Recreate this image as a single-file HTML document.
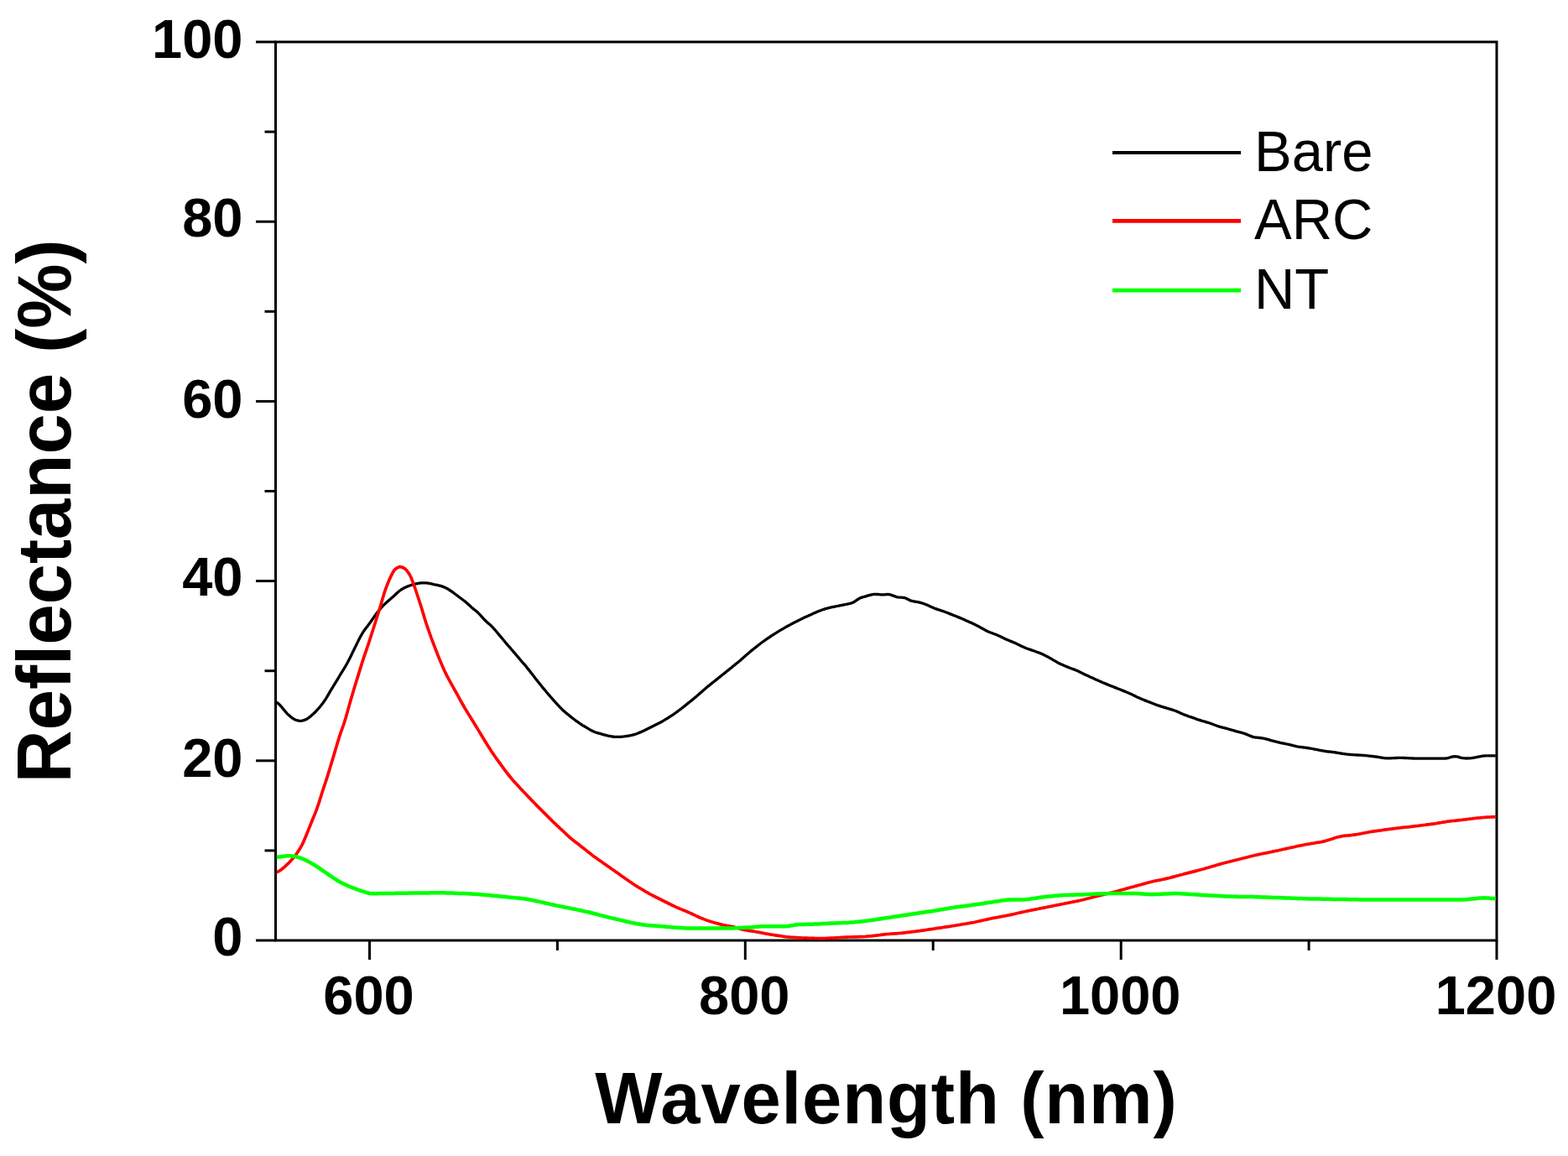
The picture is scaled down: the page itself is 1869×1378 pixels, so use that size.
<!DOCTYPE html>
<html><head><meta charset="utf-8"><title>Reflectance vs Wavelength</title>
<style>
html,body{margin:0;padding:0;background:#fff;}
svg{display:block;}
.wrap{width:1869px;height:1378px;}
.tk{font-family:"Liberation Sans",Arial,sans-serif;font-weight:bold;font-size:65px;fill:#000;}
.ttl{font-family:"Liberation Sans",Arial,sans-serif;font-weight:bold;font-size:85px;fill:#000;}
.ttl2{font-family:"Liberation Sans",Arial,sans-serif;font-weight:bold;font-size:87px;fill:#000;}
.lg{font-family:"Liberation Sans",Arial,sans-serif;font-weight:normal;font-size:67px;fill:#000;}
</style></head>
<body>
<div class="wrap"><svg width="1869" height="1378" viewBox="0 0 1869 1378">
<rect width="1869" height="1378" fill="#fff"/>
<g><rect x="328.5" y="50.0" width="1455.5" height="1071.0" fill="none" stroke="#000" stroke-width="3"/><line x1="305.0" y1="1121.0" x2="328.5" y2="1121.0" stroke="#000" stroke-width="3"/><line x1="315.5" y1="1013.9" x2="328.5" y2="1013.9" stroke="#000" stroke-width="3"/><line x1="305.0" y1="906.8" x2="328.5" y2="906.8" stroke="#000" stroke-width="3"/><line x1="315.5" y1="799.7" x2="328.5" y2="799.7" stroke="#000" stroke-width="3"/><line x1="305.0" y1="692.6" x2="328.5" y2="692.6" stroke="#000" stroke-width="3"/><line x1="315.5" y1="585.5" x2="328.5" y2="585.5" stroke="#000" stroke-width="3"/><line x1="305.0" y1="478.4" x2="328.5" y2="478.4" stroke="#000" stroke-width="3"/><line x1="315.5" y1="371.3" x2="328.5" y2="371.3" stroke="#000" stroke-width="3"/><line x1="305.0" y1="264.2" x2="328.5" y2="264.2" stroke="#000" stroke-width="3"/><line x1="315.5" y1="157.1" x2="328.5" y2="157.1" stroke="#000" stroke-width="3"/><line x1="305.0" y1="50.0" x2="328.5" y2="50.0" stroke="#000" stroke-width="3"/><line x1="440.5" y1="1121.0" x2="440.5" y2="1144.0" stroke="#000" stroke-width="3"/><line x1="664.4" y1="1121.0" x2="664.4" y2="1133.0" stroke="#000" stroke-width="3"/><line x1="888.3" y1="1121.0" x2="888.3" y2="1144.0" stroke="#000" stroke-width="3"/><line x1="1112.2" y1="1121.0" x2="1112.2" y2="1133.0" stroke="#000" stroke-width="3"/><line x1="1336.2" y1="1121.0" x2="1336.2" y2="1144.0" stroke="#000" stroke-width="3"/><line x1="1560.1" y1="1121.0" x2="1560.1" y2="1133.0" stroke="#000" stroke-width="3"/><line x1="1784.0" y1="1121.0" x2="1784.0" y2="1144.0" stroke="#000" stroke-width="3"/></g>
<g><path d="M329.7,837.5 L330.0,837.5 L332.0,838.8 L334.0,840.9 L336.0,843.2 L338.0,845.6 L340.0,848.0 L342.0,850.3 L344.0,852.3 L346.0,854.1 L348.0,855.6 L350.0,857.0 L352.0,858.0 L354.0,858.7 L356.0,859.2 L358.0,859.3 L360.0,859.1 L362.0,858.6 L364.0,857.9 L366.0,856.9 L368.0,855.6 L370.0,854.0 L372.0,852.3 L374.0,850.5 L376.0,848.5 L378.0,846.4 L380.0,844.2 L382.0,841.8 L384.0,839.3 L386.0,836.5 L388.0,833.6 L390.0,830.3 L392.0,826.9 L394.0,823.4 L396.0,820.1 L398.0,816.9 L400.0,813.6 L402.0,810.3 L404.0,807.0 L406.0,803.7 L408.0,800.4 L410.0,797.2 L412.0,793.8 L414.0,790.2 L416.0,786.4 L418.0,782.5 L420.0,778.4 L422.0,774.3 L424.0,770.2 L426.0,766.1 L428.0,762.1 L430.0,758.3 L432.0,754.8 L434.0,751.7 L436.0,749.0 L438.0,746.4 L440.0,743.7 L442.0,741.0 L444.0,738.1 L446.0,735.3 L448.0,732.5 L450.0,729.8 L452.0,727.3 L454.0,724.9 L456.0,722.7 L458.0,720.6 L460.0,718.7 L462.0,717.0 L464.0,715.3 L466.0,713.6 L468.0,711.8 L470.0,710.0 L472.0,708.0 L474.0,706.2 L476.0,704.5 L478.0,703.0 L480.0,701.8 L482.0,700.7 L484.0,699.8 L486.0,698.9 L488.0,698.2 L490.0,697.5 L492.0,696.9 L494.0,696.4 L496.0,695.9 L498.0,695.5 L500.0,695.2 L502.0,694.9 L504.0,694.8 L506.0,694.8 L508.0,694.9 L510.0,695.2 L512.0,695.5 L514.0,695.9 L516.0,696.3 L518.0,696.8 L520.0,697.2 L522.0,697.7 L524.0,698.1 L526.0,698.7 L528.0,699.3 L530.0,700.2 L532.0,701.1 L534.0,702.2 L536.0,703.5 L538.0,704.8 L540.0,706.2 L542.0,707.7 L544.0,709.2 L546.0,710.8 L548.0,712.3 L550.0,713.8 L552.0,715.3 L554.0,716.8 L556.0,718.4 L558.0,720.2 L560.0,722.0 L562.0,723.9 L564.0,725.6 L566.0,727.2 L568.0,728.8 L570.0,730.6 L572.0,732.6 L574.0,734.8 L576.0,737.1 L578.0,739.3 L580.0,741.2 L582.0,742.9 L584.0,744.6 L586.0,746.5 L588.0,748.6 L590.0,750.8 L592.0,753.2 L594.0,755.6 L596.0,758.0 L598.0,760.4 L600.0,762.8 L602.0,765.2 L604.0,767.6 L606.0,769.9 L608.0,772.2 L610.0,774.5 L612.0,776.8 L614.0,779.1 L616.0,781.5 L618.0,783.9 L620.0,786.3 L622.0,788.6 L624.0,790.9 L626.0,793.2 L628.0,795.6 L630.0,798.1 L632.0,800.6 L634.0,803.2 L636.0,805.8 L638.0,808.4 L640.0,811.0 L642.0,813.5 L644.0,816.0 L646.0,818.5 L648.0,820.9 L650.0,823.3 L652.0,825.7 L654.0,828.0 L656.0,830.4 L658.0,832.6 L660.0,834.9 L662.0,837.1 L664.0,839.3 L666.0,841.5 L668.0,843.6 L670.0,845.7 L672.0,847.5 L674.0,849.3 L676.0,850.9 L678.0,852.5 L680.0,854.1 L682.0,855.7 L684.0,857.3 L686.0,858.8 L688.0,860.2 L690.0,861.6 L692.0,863.0 L694.0,864.3 L696.0,865.5 L698.0,866.7 L700.0,867.9 L702.0,869.1 L704.0,870.3 L706.0,871.3 L708.0,872.2 L710.0,873.0 L712.0,873.6 L714.0,874.2 L716.0,874.7 L718.0,875.3 L720.0,875.9 L722.0,876.4 L724.0,876.9 L726.0,877.3 L728.0,877.7 L730.0,878.0 L732.0,878.3 L734.0,878.4 L736.0,878.4 L738.0,878.4 L740.0,878.3 L742.0,878.1 L744.0,877.9 L746.0,877.6 L748.0,877.3 L750.0,877.0 L752.0,876.6 L754.0,876.2 L756.0,875.6 L758.0,875.0 L760.0,874.2 L762.0,873.4 L764.0,872.6 L766.0,871.7 L768.0,870.8 L770.0,869.8 L772.0,868.8 L774.0,867.8 L776.0,866.8 L778.0,865.8 L780.0,864.8 L782.0,863.8 L784.0,862.8 L786.0,861.8 L788.0,860.7 L790.0,859.6 L792.0,858.4 L794.0,857.2 L796.0,856.0 L798.0,854.7 L800.0,853.4 L802.0,852.1 L804.0,850.7 L806.0,849.2 L808.0,847.8 L810.0,846.3 L812.0,844.7 L814.0,843.2 L816.0,841.6 L818.0,840.0 L820.0,838.4 L822.0,836.8 L824.0,835.2 L826.0,833.6 L828.0,831.9 L830.0,830.3 L832.0,828.6 L834.0,826.8 L836.0,825.0 L838.0,823.2 L840.0,821.5 L842.0,819.8 L844.0,818.1 L846.0,816.5 L848.0,814.9 L850.0,813.3 L852.0,811.7 L854.0,810.1 L856.0,808.5 L858.0,806.9 L860.0,805.3 L862.0,803.7 L864.0,802.1 L866.0,800.5 L868.0,798.9 L870.0,797.3 L872.0,795.7 L874.0,794.0 L876.0,792.4 L878.0,790.8 L880.0,789.2 L882.0,787.5 L884.0,785.7 L886.0,784.0 L888.0,782.2 L890.0,780.4 L892.0,778.7 L894.0,777.0 L896.0,775.4 L898.0,773.8 L900.0,772.2 L902.0,770.6 L904.0,769.0 L906.0,767.5 L908.0,766.0 L910.0,764.5 L912.0,763.1 L914.0,761.7 L916.0,760.3 L918.0,759.0 L920.0,757.7 L922.0,756.4 L924.0,755.1 L926.0,753.9 L928.0,752.6 L930.0,751.4 L932.0,750.2 L934.0,749.1 L936.0,747.9 L938.0,746.8 L940.0,745.7 L942.0,744.6 L944.0,743.5 L946.0,742.5 L948.0,741.4 L950.0,740.4 L952.0,739.4 L954.0,738.5 L956.0,737.5 L958.0,736.6 L960.0,735.6 L962.0,734.7 L964.0,733.8 L966.0,732.9 L968.0,732.0 L970.0,731.1 L972.0,730.2 L974.0,729.3 L976.0,728.5 L978.0,727.7 L980.0,727.0 L982.0,726.3 L984.0,725.7 L986.0,725.2 L988.0,724.6 L990.0,724.1 L992.0,723.7 L994.0,723.3 L996.0,722.9 L998.0,722.5 L1000.0,722.1 L1002.0,721.7 L1004.0,721.3 L1006.0,720.9 L1008.0,720.5 L1010.0,720.1 L1012.0,719.7 L1014.0,719.2 L1016.0,718.6 L1018.0,717.6 L1020.0,716.2 L1022.0,714.8 L1024.0,713.5 L1026.0,712.6 L1028.0,711.9 L1030.0,711.4 L1032.0,710.8 L1034.0,710.2 L1036.0,709.6 L1038.0,709.1 L1040.0,708.6 L1042.0,708.3 L1044.0,708.3 L1046.0,708.5 L1048.0,708.7 L1050.0,708.9 L1052.0,708.9 L1054.0,708.8 L1056.0,708.6 L1058.0,708.5 L1060.0,708.7 L1062.0,709.2 L1064.0,709.9 L1066.0,710.6 L1068.0,711.3 L1070.0,711.8 L1072.0,712.1 L1074.0,712.2 L1076.0,712.3 L1078.0,712.5 L1080.0,713.3 L1082.0,714.3 L1084.0,715.4 L1086.0,716.2 L1088.0,716.7 L1090.0,717.0 L1092.0,717.3 L1094.0,717.6 L1096.0,718.1 L1098.0,718.6 L1100.0,719.3 L1102.0,720.0 L1104.0,720.7 L1106.0,721.6 L1108.0,722.5 L1110.0,723.4 L1112.0,724.3 L1114.0,725.2 L1116.0,725.9 L1118.0,726.6 L1120.0,727.2 L1122.0,727.9 L1124.0,728.5 L1126.0,729.2 L1128.0,730.0 L1130.0,730.8 L1132.0,731.6 L1134.0,732.4 L1136.0,733.2 L1138.0,734.0 L1140.0,734.8 L1142.0,735.6 L1144.0,736.4 L1146.0,737.2 L1148.0,738.1 L1150.0,739.0 L1152.0,739.9 L1154.0,740.8 L1156.0,741.7 L1158.0,742.6 L1160.0,743.6 L1162.0,744.6 L1164.0,745.6 L1166.0,746.6 L1168.0,747.6 L1170.0,748.7 L1172.0,749.8 L1174.0,750.9 L1176.0,751.9 L1178.0,752.9 L1180.0,753.8 L1182.0,754.5 L1184.0,755.3 L1186.0,756.0 L1188.0,756.8 L1190.0,757.7 L1192.0,758.6 L1194.0,759.5 L1196.0,760.5 L1198.0,761.5 L1200.0,762.4 L1202.0,763.2 L1204.0,764.1 L1206.0,764.9 L1208.0,765.7 L1210.0,766.6 L1212.0,767.5 L1214.0,768.4 L1216.0,769.4 L1218.0,770.4 L1220.0,771.3 L1222.0,772.2 L1224.0,773.0 L1226.0,773.7 L1228.0,774.4 L1230.0,775.1 L1232.0,775.8 L1234.0,776.5 L1236.0,777.2 L1238.0,777.9 L1240.0,778.7 L1242.0,779.6 L1244.0,780.5 L1246.0,781.5 L1248.0,782.6 L1250.0,783.6 L1252.0,784.7 L1254.0,785.9 L1256.0,787.1 L1258.0,788.2 L1260.0,789.4 L1262.0,790.4 L1264.0,791.4 L1266.0,792.3 L1268.0,793.2 L1270.0,794.1 L1272.0,794.9 L1274.0,795.7 L1276.0,796.5 L1278.0,797.2 L1280.0,797.9 L1282.0,798.7 L1284.0,799.6 L1286.0,800.5 L1288.0,801.5 L1290.0,802.5 L1292.0,803.4 L1294.0,804.4 L1296.0,805.3 L1298.0,806.3 L1300.0,807.2 L1302.0,808.1 L1304.0,809.0 L1306.0,809.9 L1308.0,810.8 L1310.0,811.7 L1312.0,812.6 L1314.0,813.5 L1316.0,814.3 L1318.0,815.1 L1320.0,815.9 L1322.0,816.8 L1324.0,817.6 L1326.0,818.3 L1328.0,819.1 L1330.0,819.9 L1332.0,820.7 L1334.0,821.5 L1336.0,822.3 L1338.0,823.1 L1340.0,823.9 L1342.0,824.7 L1344.0,825.5 L1346.0,826.4 L1348.0,827.3 L1350.0,828.2 L1352.0,829.2 L1354.0,830.2 L1356.0,831.2 L1358.0,832.1 L1360.0,833.0 L1362.0,833.8 L1364.0,834.6 L1366.0,835.4 L1368.0,836.2 L1370.0,836.9 L1372.0,837.7 L1374.0,838.5 L1376.0,839.3 L1378.0,840.1 L1380.0,840.8 L1382.0,841.4 L1384.0,842.1 L1386.0,842.7 L1388.0,843.3 L1390.0,843.9 L1392.0,844.5 L1394.0,845.1 L1396.0,845.7 L1398.0,846.3 L1400.0,847.0 L1402.0,847.8 L1404.0,848.6 L1406.0,849.5 L1408.0,850.4 L1410.0,851.3 L1412.0,852.1 L1414.0,852.8 L1416.0,853.6 L1418.0,854.3 L1420.0,854.9 L1422.0,855.6 L1424.0,856.3 L1426.0,857.1 L1428.0,857.8 L1430.0,858.4 L1432.0,859.1 L1434.0,859.7 L1436.0,860.2 L1438.0,860.8 L1440.0,861.4 L1442.0,862.0 L1444.0,862.8 L1446.0,863.5 L1448.0,864.3 L1450.0,865.0 L1452.0,865.7 L1454.0,866.3 L1456.0,866.8 L1458.0,867.4 L1460.0,867.9 L1462.0,868.4 L1464.0,869.0 L1466.0,869.6 L1468.0,870.2 L1470.0,870.7 L1472.0,871.3 L1474.0,871.9 L1476.0,872.4 L1478.0,872.9 L1480.0,873.4 L1482.0,874.0 L1484.0,874.6 L1486.0,875.4 L1488.0,876.3 L1490.0,877.1 L1492.0,877.9 L1494.0,878.6 L1496.0,879.0 L1498.0,879.2 L1500.0,879.4 L1502.0,879.5 L1504.0,879.8 L1506.0,880.1 L1508.0,880.6 L1510.0,881.1 L1512.0,881.7 L1514.0,882.3 L1516.0,882.9 L1518.0,883.4 L1520.0,883.9 L1522.0,884.4 L1524.0,884.9 L1526.0,885.4 L1528.0,885.8 L1530.0,886.2 L1532.0,886.6 L1534.0,887.0 L1536.0,887.4 L1538.0,887.9 L1540.0,888.4 L1542.0,888.9 L1544.0,889.3 L1546.0,889.8 L1548.0,890.2 L1550.0,890.5 L1552.0,890.7 L1554.0,891.0 L1556.0,891.2 L1558.0,891.5 L1560.0,891.8 L1562.0,892.1 L1564.0,892.5 L1566.0,892.9 L1568.0,893.3 L1570.0,893.7 L1572.0,894.1 L1574.0,894.5 L1576.0,894.8 L1578.0,895.2 L1580.0,895.5 L1582.0,895.8 L1584.0,896.0 L1586.0,896.2 L1588.0,896.5 L1590.0,896.7 L1592.0,897.0 L1594.0,897.3 L1596.0,897.7 L1598.0,898.0 L1600.0,898.3 L1602.0,898.6 L1604.0,898.9 L1606.0,899.1 L1608.0,899.3 L1610.0,899.5 L1612.0,899.6 L1614.0,899.8 L1616.0,899.9 L1618.0,900.0 L1620.0,900.1 L1622.0,900.2 L1624.0,900.3 L1626.0,900.5 L1628.0,900.7 L1630.0,900.9 L1632.0,901.1 L1634.0,901.3 L1636.0,901.5 L1638.0,901.8 L1640.0,902.0 L1642.0,902.3 L1644.0,902.7 L1646.0,903.0 L1648.0,903.3 L1650.0,903.6 L1652.0,903.8 L1654.0,903.9 L1656.0,903.9 L1658.0,903.9 L1660.0,903.7 L1662.0,903.6 L1664.0,903.5 L1666.0,903.4 L1668.0,903.3 L1670.0,903.4 L1672.0,903.4 L1674.0,903.5 L1676.0,903.6 L1678.0,903.7 L1680.0,903.8 L1682.0,903.9 L1684.0,904.0 L1686.0,904.1 L1688.0,904.2 L1690.0,904.2 L1692.0,904.2 L1694.0,904.2 L1696.0,904.2 L1698.0,904.2 L1700.0,904.2 L1702.0,904.2 L1704.0,904.2 L1706.0,904.2 L1708.0,904.2 L1710.0,904.2 L1712.0,904.2 L1714.0,904.2 L1716.0,904.2 L1718.0,904.2 L1720.0,904.2 L1722.0,904.1 L1724.0,904.0 L1726.0,903.6 L1728.0,903.0 L1730.0,902.4 L1732.0,901.8 L1734.0,901.7 L1736.0,901.8 L1738.0,902.2 L1740.0,902.8 L1742.0,903.3 L1744.0,903.7 L1746.0,903.9 L1748.0,904.0 L1750.0,903.9 L1752.0,903.8 L1754.0,903.6 L1756.0,903.3 L1758.0,903.0 L1760.0,902.6 L1762.0,902.2 L1764.0,901.8 L1766.0,901.4 L1768.0,901.1 L1770.0,900.9 L1772.0,900.8 L1774.0,900.8 L1776.0,900.8 L1778.0,900.8 L1780.0,900.8 L1782.0,900.8 L1782.8,900.8" fill="none" stroke="#000000" stroke-width="3.3" stroke-linejoin="round"/><path d="M329.7,1039.6 L330.0,1039.6 L332.0,1038.8 L334.0,1037.5 L336.0,1036.0 L338.0,1034.3 L340.0,1032.6 L342.0,1030.7 L344.0,1028.8 L346.0,1026.8 L348.0,1024.6 L350.0,1022.3 L352.0,1019.8 L354.0,1017.0 L356.0,1013.9 L358.0,1010.7 L360.0,1007.1 L362.0,1002.9 L364.0,998.2 L366.0,993.3 L368.0,988.4 L370.0,983.3 L372.0,978.3 L374.0,973.5 L376.0,968.6 L378.0,963.2 L380.0,957.4 L382.0,951.0 L384.0,944.5 L386.0,938.4 L388.0,932.5 L390.0,926.4 L392.0,919.9 L394.0,913.2 L396.0,906.6 L398.0,900.0 L400.0,893.3 L402.0,886.5 L404.0,879.9 L406.0,873.6 L408.0,868.1 L410.0,862.5 L412.0,856.0 L414.0,848.9 L416.0,841.8 L418.0,834.8 L420.0,827.9 L422.0,821.1 L424.0,814.6 L426.0,808.1 L428.0,801.6 L430.0,795.1 L432.0,788.7 L434.0,782.7 L436.0,776.9 L438.0,771.0 L440.0,765.0 L442.0,758.7 L444.0,752.5 L446.0,746.2 L448.0,739.9 L450.0,733.6 L452.0,727.3 L454.0,720.7 L456.0,713.7 L458.0,707.0 L460.0,701.1 L462.0,696.0 L464.0,691.1 L466.0,686.9 L468.0,682.9 L470.0,679.5 L472.0,677.8 L474.0,676.6 L476.0,675.7 L478.0,675.8 L480.0,676.5 L482.0,677.5 L484.0,679.1 L486.0,681.6 L488.0,684.5 L490.0,688.5 L492.0,693.6 L494.0,699.0 L496.0,705.0 L498.0,711.0 L500.0,717.0 L502.0,723.3 L504.0,729.9 L506.0,736.6 L508.0,743.0 L510.0,748.9 L512.0,754.5 L514.0,760.3 L516.0,765.5 L518.0,770.8 L520.0,776.0 L522.0,781.1 L524.0,786.1 L526.0,790.9 L528.0,795.6 L530.0,800.0 L532.0,804.1 L534.0,808.0 L536.0,811.7 L538.0,815.3 L540.0,818.9 L542.0,822.5 L544.0,826.0 L546.0,829.7 L548.0,833.3 L550.0,837.0 L552.0,840.5 L554.0,844.0 L556.0,847.3 L558.0,850.6 L560.0,853.8 L562.0,857.0 L564.0,860.2 L566.0,863.5 L568.0,866.8 L570.0,870.1 L572.0,873.4 L574.0,876.7 L576.0,880.0 L578.0,883.3 L580.0,886.5 L582.0,889.7 L584.0,892.8 L586.0,895.9 L588.0,898.9 L590.0,901.8 L592.0,904.6 L594.0,907.4 L596.0,910.2 L598.0,912.9 L600.0,915.6 L602.0,918.3 L604.0,920.9 L606.0,923.5 L608.0,926.0 L610.0,928.4 L612.0,930.7 L614.0,932.9 L616.0,935.1 L618.0,937.3 L620.0,939.5 L622.0,941.6 L624.0,943.7 L626.0,945.8 L628.0,947.9 L630.0,950.0 L632.0,952.1 L634.0,954.2 L636.0,956.3 L638.0,958.3 L640.0,960.4 L642.0,962.4 L644.0,964.4 L646.0,966.4 L648.0,968.4 L650.0,970.4 L652.0,972.4 L654.0,974.4 L656.0,976.4 L658.0,978.4 L660.0,980.3 L662.0,982.2 L664.0,984.1 L666.0,985.9 L668.0,987.8 L670.0,989.6 L672.0,991.5 L674.0,993.4 L676.0,995.3 L678.0,997.2 L680.0,999.0 L682.0,1000.6 L684.0,1002.2 L686.0,1003.8 L688.0,1005.3 L690.0,1006.8 L692.0,1008.4 L694.0,1009.9 L696.0,1011.5 L698.0,1013.1 L700.0,1014.7 L702.0,1016.3 L704.0,1017.8 L706.0,1019.4 L708.0,1020.9 L710.0,1022.3 L712.0,1023.8 L714.0,1025.2 L716.0,1026.6 L718.0,1028.0 L720.0,1029.4 L722.0,1030.8 L724.0,1032.2 L726.0,1033.6 L728.0,1035.0 L730.0,1036.4 L732.0,1037.8 L734.0,1039.2 L736.0,1040.6 L738.0,1042.0 L740.0,1043.5 L742.0,1044.9 L744.0,1046.3 L746.0,1047.7 L748.0,1049.1 L750.0,1050.5 L752.0,1051.8 L754.0,1053.2 L756.0,1054.6 L758.0,1055.8 L760.0,1057.1 L762.0,1058.3 L764.0,1059.5 L766.0,1060.7 L768.0,1061.9 L770.0,1063.1 L772.0,1064.2 L774.0,1065.4 L776.0,1066.4 L778.0,1067.5 L780.0,1068.5 L782.0,1069.5 L784.0,1070.5 L786.0,1071.5 L788.0,1072.5 L790.0,1073.5 L792.0,1074.5 L794.0,1075.5 L796.0,1076.5 L798.0,1077.5 L800.0,1078.5 L802.0,1079.5 L804.0,1080.4 L806.0,1081.4 L808.0,1082.3 L810.0,1083.1 L812.0,1083.9 L814.0,1084.7 L816.0,1085.5 L818.0,1086.3 L820.0,1087.2 L822.0,1088.1 L824.0,1089.0 L826.0,1090.0 L828.0,1090.9 L830.0,1091.9 L832.0,1092.8 L834.0,1093.7 L836.0,1094.5 L838.0,1095.3 L840.0,1096.1 L842.0,1096.9 L844.0,1097.5 L846.0,1098.2 L848.0,1098.8 L850.0,1099.4 L852.0,1100.0 L854.0,1100.6 L856.0,1101.1 L858.0,1101.6 L860.0,1102.1 L862.0,1102.6 L864.0,1103.0 L866.0,1103.4 L868.0,1103.7 L870.0,1104.1 L872.0,1104.5 L874.0,1104.9 L876.0,1105.4 L878.0,1106.0 L880.0,1106.6 L882.0,1107.2 L884.0,1107.8 L886.0,1108.3 L888.0,1108.7 L890.0,1109.0 L892.0,1109.4 L894.0,1109.6 L896.0,1109.9 L898.0,1110.2 L900.0,1110.5 L902.0,1110.9 L904.0,1111.2 L906.0,1111.6 L908.0,1112.0 L910.0,1112.4 L912.0,1112.8 L914.0,1113.1 L916.0,1113.5 L918.0,1113.9 L920.0,1114.2 L922.0,1114.5 L924.0,1114.8 L926.0,1115.1 L928.0,1115.4 L930.0,1115.7 L932.0,1116.0 L934.0,1116.3 L936.0,1116.6 L938.0,1116.8 L940.0,1117.0 L942.0,1117.2 L944.0,1117.3 L946.0,1117.4 L948.0,1117.6 L950.0,1117.7 L952.0,1117.8 L954.0,1117.9 L956.0,1118.0 L958.0,1118.1 L960.0,1118.1 L962.0,1118.2 L964.0,1118.3 L966.0,1118.3 L968.0,1118.4 L970.0,1118.4 L972.0,1118.5 L974.0,1118.5 L976.0,1118.6 L978.0,1118.6 L980.0,1118.6 L982.0,1118.6 L984.0,1118.5 L986.0,1118.4 L988.0,1118.3 L990.0,1118.2 L992.0,1118.1 L994.0,1118.0 L996.0,1117.9 L998.0,1117.8 L1000.0,1117.7 L1002.0,1117.5 L1004.0,1117.4 L1006.0,1117.3 L1008.0,1117.2 L1010.0,1117.1 L1012.0,1117.0 L1014.0,1117.0 L1016.0,1116.9 L1018.0,1116.8 L1020.0,1116.8 L1022.0,1116.8 L1024.0,1116.7 L1026.0,1116.7 L1028.0,1116.6 L1030.0,1116.5 L1032.0,1116.4 L1034.0,1116.2 L1036.0,1116.0 L1038.0,1115.8 L1040.0,1115.6 L1042.0,1115.3 L1044.0,1115.1 L1046.0,1114.8 L1048.0,1114.6 L1050.0,1114.3 L1052.0,1114.1 L1054.0,1113.9 L1056.0,1113.7 L1058.0,1113.5 L1060.0,1113.4 L1062.0,1113.2 L1064.0,1113.1 L1066.0,1112.9 L1068.0,1112.8 L1070.0,1112.6 L1072.0,1112.5 L1074.0,1112.3 L1076.0,1112.1 L1078.0,1111.9 L1080.0,1111.7 L1082.0,1111.4 L1084.0,1111.2 L1086.0,1110.9 L1088.0,1110.7 L1090.0,1110.4 L1092.0,1110.2 L1094.0,1109.9 L1096.0,1109.7 L1098.0,1109.4 L1100.0,1109.1 L1102.0,1108.8 L1104.0,1108.5 L1106.0,1108.2 L1108.0,1107.9 L1110.0,1107.6 L1112.0,1107.3 L1114.0,1107.0 L1116.0,1106.7 L1118.0,1106.4 L1120.0,1106.1 L1122.0,1105.8 L1124.0,1105.5 L1126.0,1105.2 L1128.0,1104.9 L1130.0,1104.6 L1132.0,1104.3 L1134.0,1104.0 L1136.0,1103.7 L1138.0,1103.3 L1140.0,1103.0 L1142.0,1102.7 L1144.0,1102.4 L1146.0,1102.0 L1148.0,1101.7 L1150.0,1101.3 L1152.0,1101.0 L1154.0,1100.6 L1156.0,1100.3 L1158.0,1099.9 L1160.0,1099.6 L1162.0,1099.2 L1164.0,1098.7 L1166.0,1098.3 L1168.0,1097.9 L1170.0,1097.4 L1172.0,1097.0 L1174.0,1096.5 L1176.0,1096.1 L1178.0,1095.6 L1180.0,1095.2 L1182.0,1094.8 L1184.0,1094.4 L1186.0,1094.0 L1188.0,1093.6 L1190.0,1093.3 L1192.0,1092.9 L1194.0,1092.5 L1196.0,1092.2 L1198.0,1091.8 L1200.0,1091.4 L1202.0,1091.0 L1204.0,1090.6 L1206.0,1090.1 L1208.0,1089.7 L1210.0,1089.2 L1212.0,1088.8 L1214.0,1088.3 L1216.0,1087.9 L1218.0,1087.4 L1220.0,1087.0 L1222.0,1086.5 L1224.0,1086.1 L1226.0,1085.7 L1228.0,1085.3 L1230.0,1084.9 L1232.0,1084.5 L1234.0,1084.1 L1236.0,1083.7 L1238.0,1083.3 L1240.0,1082.9 L1242.0,1082.5 L1244.0,1082.1 L1246.0,1081.7 L1248.0,1081.3 L1250.0,1080.9 L1252.0,1080.5 L1254.0,1080.1 L1256.0,1079.7 L1258.0,1079.3 L1260.0,1078.9 L1262.0,1078.5 L1264.0,1078.1 L1266.0,1077.7 L1268.0,1077.3 L1270.0,1076.9 L1272.0,1076.5 L1274.0,1076.1 L1276.0,1075.7 L1278.0,1075.3 L1280.0,1074.9 L1282.0,1074.5 L1284.0,1074.1 L1286.0,1073.6 L1288.0,1073.2 L1290.0,1072.7 L1292.0,1072.3 L1294.0,1071.8 L1296.0,1071.3 L1298.0,1070.8 L1300.0,1070.3 L1302.0,1069.8 L1304.0,1069.3 L1306.0,1068.8 L1308.0,1068.3 L1310.0,1067.8 L1312.0,1067.3 L1314.0,1066.8 L1316.0,1066.3 L1318.0,1065.8 L1320.0,1065.3 L1322.0,1064.8 L1324.0,1064.3 L1326.0,1063.8 L1328.0,1063.2 L1330.0,1062.7 L1332.0,1062.2 L1334.0,1061.6 L1336.0,1061.1 L1338.0,1060.5 L1340.0,1060.0 L1342.0,1059.4 L1344.0,1058.9 L1346.0,1058.3 L1348.0,1057.8 L1350.0,1057.2 L1352.0,1056.7 L1354.0,1056.1 L1356.0,1055.6 L1358.0,1055.0 L1360.0,1054.5 L1362.0,1053.9 L1364.0,1053.4 L1366.0,1052.8 L1368.0,1052.3 L1370.0,1051.8 L1372.0,1051.3 L1374.0,1050.8 L1376.0,1050.3 L1378.0,1049.9 L1380.0,1049.5 L1382.0,1049.1 L1384.0,1048.7 L1386.0,1048.3 L1388.0,1047.9 L1390.0,1047.4 L1392.0,1046.9 L1394.0,1046.5 L1396.0,1045.9 L1398.0,1045.4 L1400.0,1044.9 L1402.0,1044.3 L1404.0,1043.8 L1406.0,1043.2 L1408.0,1042.7 L1410.0,1042.2 L1412.0,1041.6 L1414.0,1041.1 L1416.0,1040.6 L1418.0,1040.1 L1420.0,1039.6 L1422.0,1039.1 L1424.0,1038.6 L1426.0,1038.1 L1428.0,1037.6 L1430.0,1037.0 L1432.0,1036.5 L1434.0,1036.0 L1436.0,1035.4 L1438.0,1034.8 L1440.0,1034.3 L1442.0,1033.7 L1444.0,1033.1 L1446.0,1032.5 L1448.0,1031.9 L1450.0,1031.3 L1452.0,1030.7 L1454.0,1030.1 L1456.0,1029.6 L1458.0,1029.0 L1460.0,1028.5 L1462.0,1028.0 L1464.0,1027.5 L1466.0,1027.0 L1468.0,1026.5 L1470.0,1026.0 L1472.0,1025.5 L1474.0,1025.0 L1476.0,1024.5 L1478.0,1024.0 L1480.0,1023.5 L1482.0,1023.0 L1484.0,1022.5 L1486.0,1022.0 L1488.0,1021.5 L1490.0,1021.0 L1492.0,1020.5 L1494.0,1020.0 L1496.0,1019.5 L1498.0,1019.1 L1500.0,1018.6 L1502.0,1018.2 L1504.0,1017.8 L1506.0,1017.4 L1508.0,1017.0 L1510.0,1016.6 L1512.0,1016.2 L1514.0,1015.8 L1516.0,1015.4 L1518.0,1014.9 L1520.0,1014.5 L1522.0,1014.1 L1524.0,1013.7 L1526.0,1013.2 L1528.0,1012.8 L1530.0,1012.3 L1532.0,1011.9 L1534.0,1011.4 L1536.0,1011.0 L1538.0,1010.5 L1540.0,1010.1 L1542.0,1009.7 L1544.0,1009.2 L1546.0,1008.8 L1548.0,1008.4 L1550.0,1008.0 L1552.0,1007.6 L1554.0,1007.2 L1556.0,1006.8 L1558.0,1006.4 L1560.0,1006.1 L1562.0,1005.7 L1564.0,1005.4 L1566.0,1005.1 L1568.0,1004.7 L1570.0,1004.4 L1572.0,1004.1 L1574.0,1003.8 L1576.0,1003.4 L1578.0,1002.9 L1580.0,1002.4 L1582.0,1001.8 L1584.0,1001.2 L1586.0,1000.6 L1588.0,999.9 L1590.0,999.2 L1592.0,998.6 L1594.0,998.0 L1596.0,997.5 L1598.0,997.1 L1600.0,996.7 L1602.0,996.4 L1604.0,996.2 L1606.0,996.0 L1608.0,995.8 L1610.0,995.6 L1612.0,995.4 L1614.0,995.1 L1616.0,994.8 L1618.0,994.5 L1620.0,994.1 L1622.0,993.8 L1624.0,993.4 L1626.0,993.0 L1628.0,992.6 L1630.0,992.2 L1632.0,991.8 L1634.0,991.5 L1636.0,991.2 L1638.0,990.9 L1640.0,990.6 L1642.0,990.3 L1644.0,990.0 L1646.0,989.8 L1648.0,989.5 L1650.0,989.2 L1652.0,988.9 L1654.0,988.7 L1656.0,988.4 L1658.0,988.2 L1660.0,987.9 L1662.0,987.6 L1664.0,987.4 L1666.0,987.1 L1668.0,986.9 L1670.0,986.6 L1672.0,986.4 L1674.0,986.2 L1676.0,986.0 L1678.0,985.8 L1680.0,985.6 L1682.0,985.3 L1684.0,985.1 L1686.0,984.9 L1688.0,984.7 L1690.0,984.5 L1692.0,984.2 L1694.0,984.0 L1696.0,983.7 L1698.0,983.5 L1700.0,983.2 L1702.0,982.9 L1704.0,982.7 L1706.0,982.4 L1708.0,982.1 L1710.0,981.8 L1712.0,981.5 L1714.0,981.1 L1716.0,980.8 L1718.0,980.5 L1720.0,980.1 L1722.0,979.8 L1724.0,979.5 L1726.0,979.2 L1728.0,979.0 L1730.0,978.7 L1732.0,978.5 L1734.0,978.3 L1736.0,978.1 L1738.0,977.9 L1740.0,977.7 L1742.0,977.5 L1744.0,977.2 L1746.0,977.0 L1748.0,976.7 L1750.0,976.5 L1752.0,976.2 L1754.0,976.0 L1756.0,975.7 L1758.0,975.5 L1760.0,975.2 L1762.0,975.0 L1764.0,974.8 L1766.0,974.6 L1768.0,974.5 L1770.0,974.3 L1772.0,974.2 L1774.0,974.1 L1776.0,974.0 L1778.0,973.8 L1780.0,973.8 L1782.0,973.7 L1782.8,973.7" fill="none" stroke="#ff0000" stroke-width="3.7" stroke-linejoin="round"/><path d="M329.7,1021.8 L330.0,1021.8 L332.0,1021.6 L334.0,1021.4 L336.0,1021.1 L338.0,1020.8 L340.0,1020.5 L342.0,1020.3 L344.0,1020.2 L346.0,1020.2 L348.0,1020.4 L350.0,1020.7 L352.0,1021.0 L354.0,1021.5 L356.0,1022.0 L358.0,1022.7 L360.0,1023.4 L362.0,1024.3 L364.0,1025.3 L366.0,1026.3 L368.0,1027.3 L370.0,1028.4 L372.0,1029.6 L374.0,1030.7 L376.0,1032.0 L378.0,1033.2 L380.0,1034.5 L382.0,1035.9 L384.0,1037.3 L386.0,1038.6 L388.0,1040.0 L390.0,1041.4 L392.0,1042.8 L394.0,1044.1 L396.0,1045.5 L398.0,1046.9 L400.0,1048.2 L402.0,1049.5 L404.0,1050.7 L406.0,1051.8 L408.0,1052.9 L410.0,1053.8 L412.0,1054.8 L414.0,1055.7 L416.0,1056.5 L418.0,1057.3 L420.0,1058.1 L422.0,1058.9 L424.0,1059.6 L426.0,1060.3 L428.0,1061.1 L430.0,1061.8 L432.0,1062.4 L434.0,1063.1 L436.0,1063.7 L438.0,1064.2 L440.0,1064.7 L442.0,1065.0 L444.0,1065.2 L446.0,1065.2 L448.0,1065.2 L450.0,1065.2 L452.0,1065.1 L454.0,1065.1 L456.0,1065.1 L458.0,1065.0 L460.0,1065.0 L462.0,1065.0 L464.0,1064.9 L466.0,1064.9 L468.0,1064.9 L470.0,1064.9 L472.0,1064.8 L474.0,1064.8 L476.0,1064.8 L478.0,1064.7 L480.0,1064.7 L482.0,1064.7 L484.0,1064.7 L486.0,1064.7 L488.0,1064.6 L490.0,1064.6 L492.0,1064.6 L494.0,1064.6 L496.0,1064.5 L498.0,1064.5 L500.0,1064.5 L502.0,1064.5 L504.0,1064.5 L506.0,1064.4 L508.0,1064.4 L510.0,1064.4 L512.0,1064.4 L514.0,1064.3 L516.0,1064.3 L518.0,1064.3 L520.0,1064.3 L522.0,1064.3 L524.0,1064.2 L526.0,1064.2 L528.0,1064.3 L530.0,1064.3 L532.0,1064.4 L534.0,1064.4 L536.0,1064.5 L538.0,1064.6 L540.0,1064.6 L542.0,1064.7 L544.0,1064.8 L546.0,1064.9 L548.0,1064.9 L550.0,1065.0 L552.0,1065.1 L554.0,1065.1 L556.0,1065.2 L558.0,1065.3 L560.0,1065.4 L562.0,1065.5 L564.0,1065.7 L566.0,1065.8 L568.0,1066.0 L570.0,1066.1 L572.0,1066.3 L574.0,1066.4 L576.0,1066.6 L578.0,1066.7 L580.0,1066.9 L582.0,1067.1 L584.0,1067.3 L586.0,1067.5 L588.0,1067.7 L590.0,1067.9 L592.0,1068.1 L594.0,1068.3 L596.0,1068.5 L598.0,1068.7 L600.0,1068.9 L602.0,1069.1 L604.0,1069.3 L606.0,1069.5 L608.0,1069.7 L610.0,1069.9 L612.0,1070.1 L614.0,1070.3 L616.0,1070.4 L618.0,1070.6 L620.0,1070.8 L622.0,1071.0 L624.0,1071.3 L626.0,1071.5 L628.0,1071.8 L630.0,1072.2 L632.0,1072.6 L634.0,1073.0 L636.0,1073.4 L638.0,1073.8 L640.0,1074.2 L642.0,1074.6 L644.0,1075.1 L646.0,1075.5 L648.0,1076.0 L650.0,1076.5 L652.0,1076.9 L654.0,1077.4 L656.0,1077.9 L658.0,1078.3 L660.0,1078.7 L662.0,1079.2 L664.0,1079.6 L666.0,1080.0 L668.0,1080.4 L670.0,1080.8 L672.0,1081.2 L674.0,1081.6 L676.0,1082.0 L678.0,1082.4 L680.0,1082.8 L682.0,1083.2 L684.0,1083.5 L686.0,1083.9 L688.0,1084.4 L690.0,1084.8 L692.0,1085.2 L694.0,1085.7 L696.0,1086.1 L698.0,1086.6 L700.0,1087.0 L702.0,1087.5 L704.0,1088.0 L706.0,1088.5 L708.0,1089.0 L710.0,1089.5 L712.0,1090.0 L714.0,1090.6 L716.0,1091.1 L718.0,1091.6 L720.0,1092.1 L722.0,1092.7 L724.0,1093.1 L726.0,1093.6 L728.0,1094.1 L730.0,1094.6 L732.0,1095.0 L734.0,1095.5 L736.0,1095.9 L738.0,1096.4 L740.0,1096.9 L742.0,1097.4 L744.0,1097.8 L746.0,1098.3 L748.0,1098.8 L750.0,1099.2 L752.0,1099.7 L754.0,1100.1 L756.0,1100.5 L758.0,1100.9 L760.0,1101.2 L762.0,1101.6 L764.0,1101.9 L766.0,1102.2 L768.0,1102.5 L770.0,1102.8 L772.0,1103.0 L774.0,1103.2 L776.0,1103.3 L778.0,1103.5 L780.0,1103.6 L782.0,1103.7 L784.0,1103.8 L786.0,1104.0 L788.0,1104.2 L790.0,1104.3 L792.0,1104.5 L794.0,1104.7 L796.0,1104.9 L798.0,1105.1 L800.0,1105.3 L802.0,1105.4 L804.0,1105.6 L806.0,1105.7 L808.0,1105.8 L810.0,1106.0 L812.0,1106.1 L814.0,1106.2 L816.0,1106.3 L818.0,1106.4 L820.0,1106.4 L822.0,1106.4 L824.0,1106.4 L826.0,1106.4 L828.0,1106.4 L830.0,1106.4 L832.0,1106.4 L834.0,1106.4 L836.0,1106.4 L838.0,1106.4 L840.0,1106.4 L842.0,1106.4 L844.0,1106.4 L846.0,1106.4 L848.0,1106.4 L850.0,1106.4 L852.0,1106.4 L854.0,1106.4 L856.0,1106.4 L858.0,1106.4 L860.0,1106.4 L862.0,1106.4 L864.0,1106.4 L866.0,1106.4 L868.0,1106.4 L870.0,1106.4 L872.0,1106.4 L874.0,1106.4 L876.0,1106.3 L878.0,1106.2 L880.0,1106.1 L882.0,1106.0 L884.0,1105.9 L886.0,1105.8 L888.0,1105.7 L890.0,1105.6 L892.0,1105.5 L894.0,1105.4 L896.0,1105.3 L898.0,1105.1 L900.0,1104.9 L902.0,1104.7 L904.0,1104.5 L906.0,1104.4 L908.0,1104.3 L910.0,1104.2 L912.0,1104.2 L914.0,1104.2 L916.0,1104.2 L918.0,1104.2 L920.0,1104.2 L922.0,1104.2 L924.0,1104.2 L926.0,1104.2 L928.0,1104.2 L930.0,1104.2 L932.0,1104.2 L934.0,1104.2 L936.0,1104.2 L938.0,1104.1 L940.0,1103.9 L942.0,1103.6 L944.0,1103.2 L946.0,1102.9 L948.0,1102.5 L950.0,1102.3 L952.0,1102.1 L954.0,1102.0 L956.0,1102.0 L958.0,1101.9 L960.0,1101.9 L962.0,1101.8 L964.0,1101.8 L966.0,1101.7 L968.0,1101.7 L970.0,1101.6 L972.0,1101.5 L974.0,1101.4 L976.0,1101.4 L978.0,1101.3 L980.0,1101.1 L982.0,1101.0 L984.0,1100.9 L986.0,1100.8 L988.0,1100.7 L990.0,1100.6 L992.0,1100.5 L994.0,1100.5 L996.0,1100.4 L998.0,1100.3 L1000.0,1100.3 L1002.0,1100.2 L1004.0,1100.1 L1006.0,1100.1 L1008.0,1100.0 L1010.0,1099.9 L1012.0,1099.8 L1014.0,1099.6 L1016.0,1099.4 L1018.0,1099.3 L1020.0,1099.1 L1022.0,1098.9 L1024.0,1098.7 L1026.0,1098.5 L1028.0,1098.3 L1030.0,1098.1 L1032.0,1097.8 L1034.0,1097.6 L1036.0,1097.3 L1038.0,1097.0 L1040.0,1096.7 L1042.0,1096.4 L1044.0,1096.1 L1046.0,1095.8 L1048.0,1095.5 L1050.0,1095.2 L1052.0,1094.9 L1054.0,1094.6 L1056.0,1094.3 L1058.0,1094.0 L1060.0,1093.7 L1062.0,1093.4 L1064.0,1093.1 L1066.0,1092.8 L1068.0,1092.5 L1070.0,1092.2 L1072.0,1091.9 L1074.0,1091.6 L1076.0,1091.3 L1078.0,1091.0 L1080.0,1090.7 L1082.0,1090.4 L1084.0,1090.1 L1086.0,1089.8 L1088.0,1089.5 L1090.0,1089.2 L1092.0,1088.9 L1094.0,1088.6 L1096.0,1088.3 L1098.0,1088.0 L1100.0,1087.7 L1102.0,1087.4 L1104.0,1087.1 L1106.0,1086.8 L1108.0,1086.5 L1110.0,1086.2 L1112.0,1085.9 L1114.0,1085.6 L1116.0,1085.3 L1118.0,1084.9 L1120.0,1084.6 L1122.0,1084.3 L1124.0,1083.9 L1126.0,1083.6 L1128.0,1083.2 L1130.0,1082.9 L1132.0,1082.5 L1134.0,1082.2 L1136.0,1081.9 L1138.0,1081.5 L1140.0,1081.2 L1142.0,1080.9 L1144.0,1080.7 L1146.0,1080.4 L1148.0,1080.2 L1150.0,1079.9 L1152.0,1079.7 L1154.0,1079.4 L1156.0,1079.2 L1158.0,1078.9 L1160.0,1078.6 L1162.0,1078.4 L1164.0,1078.1 L1166.0,1077.8 L1168.0,1077.5 L1170.0,1077.2 L1172.0,1076.9 L1174.0,1076.6 L1176.0,1076.3 L1178.0,1076.0 L1180.0,1075.7 L1182.0,1075.4 L1184.0,1075.1 L1186.0,1074.8 L1188.0,1074.5 L1190.0,1074.2 L1192.0,1073.9 L1194.0,1073.5 L1196.0,1073.2 L1198.0,1073.0 L1200.0,1072.7 L1202.0,1072.5 L1204.0,1072.4 L1206.0,1072.4 L1208.0,1072.4 L1210.0,1072.4 L1212.0,1072.4 L1214.0,1072.4 L1216.0,1072.4 L1218.0,1072.4 L1220.0,1072.4 L1222.0,1072.3 L1224.0,1072.1 L1226.0,1071.9 L1228.0,1071.6 L1230.0,1071.3 L1232.0,1071.0 L1234.0,1070.7 L1236.0,1070.4 L1238.0,1070.1 L1240.0,1069.8 L1242.0,1069.5 L1244.0,1069.3 L1246.0,1069.0 L1248.0,1068.8 L1250.0,1068.6 L1252.0,1068.4 L1254.0,1068.2 L1256.0,1068.0 L1258.0,1067.8 L1260.0,1067.7 L1262.0,1067.5 L1264.0,1067.3 L1266.0,1067.2 L1268.0,1067.1 L1270.0,1067.0 L1272.0,1066.9 L1274.0,1066.9 L1276.0,1066.8 L1278.0,1066.8 L1280.0,1066.7 L1282.0,1066.6 L1284.0,1066.6 L1286.0,1066.5 L1288.0,1066.4 L1290.0,1066.4 L1292.0,1066.3 L1294.0,1066.2 L1296.0,1066.1 L1298.0,1066.0 L1300.0,1065.9 L1302.0,1065.8 L1304.0,1065.7 L1306.0,1065.6 L1308.0,1065.5 L1310.0,1065.5 L1312.0,1065.4 L1314.0,1065.3 L1316.0,1065.3 L1318.0,1065.2 L1320.0,1065.2 L1322.0,1065.1 L1324.0,1065.1 L1326.0,1065.0 L1328.0,1065.0 L1330.0,1064.9 L1332.0,1064.9 L1334.0,1064.9 L1336.0,1064.9 L1338.0,1064.9 L1340.0,1064.9 L1342.0,1064.9 L1344.0,1064.9 L1346.0,1064.9 L1348.0,1064.9 L1350.0,1064.9 L1352.0,1065.0 L1354.0,1065.1 L1356.0,1065.2 L1358.0,1065.3 L1360.0,1065.5 L1362.0,1065.6 L1364.0,1065.7 L1366.0,1065.9 L1368.0,1066.0 L1370.0,1066.1 L1372.0,1066.2 L1374.0,1066.2 L1376.0,1066.1 L1378.0,1066.0 L1380.0,1065.9 L1382.0,1065.9 L1384.0,1065.8 L1386.0,1065.7 L1388.0,1065.6 L1390.0,1065.5 L1392.0,1065.4 L1394.0,1065.3 L1396.0,1065.2 L1398.0,1065.1 L1400.0,1065.0 L1402.0,1065.0 L1404.0,1065.1 L1406.0,1065.2 L1408.0,1065.3 L1410.0,1065.4 L1412.0,1065.5 L1414.0,1065.7 L1416.0,1065.8 L1418.0,1065.9 L1420.0,1066.1 L1422.0,1066.2 L1424.0,1066.3 L1426.0,1066.5 L1428.0,1066.6 L1430.0,1066.7 L1432.0,1066.9 L1434.0,1067.0 L1436.0,1067.1 L1438.0,1067.2 L1440.0,1067.3 L1442.0,1067.4 L1444.0,1067.5 L1446.0,1067.6 L1448.0,1067.7 L1450.0,1067.8 L1452.0,1067.9 L1454.0,1068.0 L1456.0,1068.2 L1458.0,1068.3 L1460.0,1068.4 L1462.0,1068.5 L1464.0,1068.6 L1466.0,1068.6 L1468.0,1068.7 L1470.0,1068.8 L1472.0,1068.8 L1474.0,1068.8 L1476.0,1068.9 L1478.0,1068.9 L1480.0,1068.9 L1482.0,1068.9 L1484.0,1069.0 L1486.0,1069.0 L1488.0,1069.0 L1490.0,1069.1 L1492.0,1069.1 L1494.0,1069.1 L1496.0,1069.2 L1498.0,1069.2 L1500.0,1069.3 L1502.0,1069.3 L1504.0,1069.4 L1506.0,1069.5 L1508.0,1069.5 L1510.0,1069.6 L1512.0,1069.7 L1514.0,1069.7 L1516.0,1069.8 L1518.0,1069.9 L1520.0,1069.9 L1522.0,1070.0 L1524.0,1070.1 L1526.0,1070.1 L1528.0,1070.2 L1530.0,1070.3 L1532.0,1070.4 L1534.0,1070.4 L1536.0,1070.5 L1538.0,1070.6 L1540.0,1070.7 L1542.0,1070.7 L1544.0,1070.8 L1546.0,1070.9 L1548.0,1071.0 L1550.0,1071.0 L1552.0,1071.1 L1554.0,1071.2 L1556.0,1071.2 L1558.0,1071.3 L1560.0,1071.4 L1562.0,1071.4 L1564.0,1071.5 L1566.0,1071.5 L1568.0,1071.5 L1570.0,1071.6 L1572.0,1071.6 L1574.0,1071.6 L1576.0,1071.7 L1578.0,1071.7 L1580.0,1071.7 L1582.0,1071.8 L1584.0,1071.8 L1586.0,1071.8 L1588.0,1071.9 L1590.0,1071.9 L1592.0,1071.9 L1594.0,1072.0 L1596.0,1072.0 L1598.0,1072.0 L1600.0,1072.1 L1602.0,1072.1 L1604.0,1072.1 L1606.0,1072.1 L1608.0,1072.2 L1610.0,1072.2 L1612.0,1072.2 L1614.0,1072.3 L1616.0,1072.3 L1618.0,1072.3 L1620.0,1072.4 L1622.0,1072.4 L1624.0,1072.4 L1626.0,1072.5 L1628.0,1072.5 L1630.0,1072.5 L1632.0,1072.6 L1634.0,1072.6 L1636.0,1072.6 L1638.0,1072.6 L1640.0,1072.6 L1642.0,1072.6 L1644.0,1072.6 L1646.0,1072.6 L1648.0,1072.6 L1650.0,1072.6 L1652.0,1072.6 L1654.0,1072.6 L1656.0,1072.6 L1658.0,1072.6 L1660.0,1072.6 L1662.0,1072.6 L1664.0,1072.6 L1666.0,1072.6 L1668.0,1072.6 L1670.0,1072.6 L1672.0,1072.6 L1674.0,1072.6 L1676.0,1072.6 L1678.0,1072.6 L1680.0,1072.6 L1682.0,1072.6 L1684.0,1072.6 L1686.0,1072.6 L1688.0,1072.6 L1690.0,1072.6 L1692.0,1072.6 L1694.0,1072.6 L1696.0,1072.6 L1698.0,1072.6 L1700.0,1072.6 L1702.0,1072.6 L1704.0,1072.6 L1706.0,1072.6 L1708.0,1072.6 L1710.0,1072.6 L1712.0,1072.6 L1714.0,1072.6 L1716.0,1072.6 L1718.0,1072.6 L1720.0,1072.6 L1722.0,1072.6 L1724.0,1072.6 L1726.0,1072.6 L1728.0,1072.6 L1730.0,1072.6 L1732.0,1072.6 L1734.0,1072.6 L1736.0,1072.6 L1738.0,1072.6 L1740.0,1072.6 L1742.0,1072.6 L1744.0,1072.5 L1746.0,1072.4 L1748.0,1072.2 L1750.0,1072.0 L1752.0,1071.8 L1754.0,1071.6 L1756.0,1071.4 L1758.0,1071.2 L1760.0,1071.0 L1762.0,1070.8 L1764.0,1070.6 L1766.0,1070.5 L1768.0,1070.4 L1770.0,1070.3 L1772.0,1070.4 L1774.0,1070.6 L1776.0,1070.8 L1778.0,1070.9 L1780.0,1071.1 L1782.0,1071.2 L1782.8,1071.2" fill="none" stroke="#00ff00" stroke-width="4.5" stroke-linejoin="round"/></g>
<g><text x="289.5" y="1138.7" text-anchor="end" class="tk">0</text><text x="289.5" y="925.9" text-anchor="end" class="tk">20</text><text x="289.5" y="710.4" text-anchor="end" class="tk">40</text><text x="289.5" y="497.6" text-anchor="end" class="tk">60</text><text x="289.5" y="282.4" text-anchor="end" class="tk">80</text><text x="289.5" y="69.1" text-anchor="end" class="tk">100</text><text x="439.5" y="1208.8" text-anchor="middle" class="tk">600</text><text x="887.3" y="1208.8" text-anchor="middle" class="tk">800</text><text x="1335.2" y="1208.8" text-anchor="middle" class="tk">1000</text><text x="1783.0" y="1208.8" text-anchor="middle" class="tk">1200</text><text transform="translate(1056.5,1339.2) scale(1,1.035)" text-anchor="middle" class="ttl" letter-spacing="0.85">Wavelength (nm)</text><text transform="translate(84.0,609.3) rotate(-90) scale(1,1.038)" text-anchor="middle" class="ttl2">Reflectance (%)</text></g>
<g><line x1="1326" y1="182" x2="1479" y2="182" stroke="#000" stroke-width="4.2"/><text transform="translate(1495,203.6) scale(1,1.02)" class="lg">Bare</text><line x1="1326" y1="263.4" x2="1479" y2="263.4" stroke="#ff0000" stroke-width="4.6"/><text transform="translate(1495,284.6) scale(1,1.02)" class="lg">ARC</text><line x1="1326" y1="346.1" x2="1479" y2="346.1" stroke="#00ff00" stroke-width="4.6"/><text transform="translate(1495,368.2) scale(1,1.02)" class="lg">NT</text></g>
</svg></div>
</body></html>
